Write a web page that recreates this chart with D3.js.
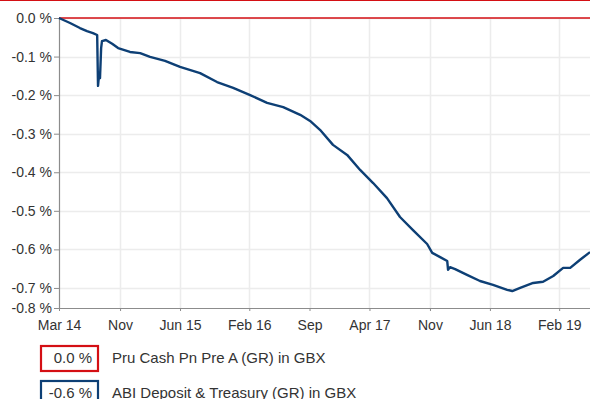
<!DOCTYPE html>
<html>
<head>
<meta charset="utf-8">
<script src="https://cdn.jsdelivr.net/npm/d3@7"></script>
<style>
  html, body { margin: 0; padding: 0; background: #fff; }
  svg { display: block; font-family: "Liberation Sans", Arial, sans-serif; }
</style>
</head>
<body>
<svg id="chart" width="590" height="399"></svg>
<script>
// Series names
const seriesNames = ["Pru Cash Pn Pre A (GR) in GBX", "ABI Deposit & Treasury (GR) in GBX"];
const seriesColors = ["#d40f14", "#0d3f75"];

// Pru Cash: flat at zero across the period
const pruDates = ["2014-03-30", "2019-05-21"];
const pruValues = [0, 0];

// ABI Deposit & Treasury cumulative performance (%)
const abiDates = [
  "2014-03-30", "2014-05-08", "2014-06-12", "2014-07-07", "2014-07-28", "2014-08-12",
  "2014-08-15", "2014-08-19", "2014-08-22", "2014-08-26", "2014-08-29", "2014-09-12",
  "2014-10-04", "2014-10-25", "2014-12-06", "2015-01-11", "2015-02-15", "2015-04-09",
  "2015-06-01", "2015-08-11", "2015-10-10", "2015-12-06", "2016-02-04", "2016-04-04",
  "2016-05-31", "2016-07-30", "2016-09-03", "2016-10-08", "2016-11-23", "2017-01-12",
  "2017-02-27", "2017-04-14", "2017-06-02", "2017-07-18", "2017-09-02", "2017-10-22",
  "2017-11-09", "2017-12-07", "2018-01-01", "2018-01-04", "2018-01-11", "2018-01-29",
  "2018-03-12", "2018-04-27", "2018-06-12", "2018-08-01", "2018-08-19", "2018-09-16",
  "2018-11-01", "2018-12-06", "2019-01-11", "2019-02-15", "2019-03-12", "2019-04-16",
  "2019-05-21"
];
const abiValues = [
  0.000, -0.013, -0.026, -0.034, -0.039, -0.044,
  -0.176, -0.145, -0.156, -0.078, -0.060, -0.057,
  -0.067, -0.078, -0.088, -0.091, -0.101, -0.111,
  -0.127, -0.143, -0.166, -0.181, -0.200, -0.220,
  -0.231, -0.251, -0.267, -0.290, -0.329, -0.355,
  -0.394, -0.428, -0.467, -0.516, -0.550, -0.586,
  -0.609, -0.620, -0.630, -0.653, -0.646, -0.651,
  -0.666, -0.682, -0.692, -0.705, -0.708, -0.700,
  -0.687, -0.684, -0.669, -0.648, -0.648, -0.627,
  -0.607
];

// Axis ticks
const xTickDates = ["2014-03-30", "2014-11-01", "2015-06-01", "2016-02-01", "2016-09-01",
                    "2017-04-01", "2017-11-01", "2018-06-01", "2019-02-01"];
const xTickLabels = ["Mar 14", "Nov", "Jun 15", "Feb 16", "Sep", "Apr 17", "Nov", "Jun 18", "Feb 19"];
const yTickValues = [0, -0.1, -0.2, -0.3, -0.4, -0.5, -0.6, -0.7, -0.752];
const yTickLabels = ["0.0 %", "-0.1 %", "-0.2 %", "-0.3 %", "-0.4 %", "-0.5 %", "-0.6 %", "-0.7 %", "-0.8 %"];

const parse = d3.utcParse("%Y-%m-%d");
const svg = d3.select("#chart");
const FONT = "Liberation Sans, Arial, sans-serif";

const plot = { left: 59, right: 590, top: 18, bottom: 308 };

const x = d3.scaleUtc()
  .domain([parse("2014-03-30"), parse("2019-05-21")])
  .range([plot.left, plot.right]);
const y = d3.scaleLinear()
  .domain([-0.752, 0])
  .range([plot.bottom, plot.top]);

// thin red rule along the top edge
svg.append("line")
  .attr("x1", 0).attr("x2", 590).attr("y1", 0.5).attr("y2", 0.5)
  .attr("stroke", "#d40f14").attr("stroke-width", 1.2);

// gridlines
const grid = svg.append("g").attr("class", "grid");
grid.selectAll("line.v")
  .data(xTickDates.slice(1))
  .join("line")
  .attr("x1", d => Math.round(x(parse(d))) + 0.5)
  .attr("x2", d => Math.round(x(parse(d))) + 0.5)
  .attr("y1", plot.top).attr("y2", plot.bottom)
  .attr("stroke", "#ececec").attr("stroke-width", 1.5);
grid.selectAll("line.h")
  .data(yTickValues.slice(0, -1))
  .join("line")
  .attr("x1", plot.left).attr("x2", plot.right)
  .attr("y1", d => Math.round(y(d)) + 0.5)
  .attr("y2", d => Math.round(y(d)) + 0.5)
  .attr("stroke", "#ececec").attr("stroke-width", 1.5);

// y axis
const yAxis = d3.axisLeft(y)
  .tickValues(yTickValues)
  .tickFormat((d, i) => yTickLabels[i])
  .tickSize(5)
  .tickPadding(2);
const gy = svg.append("g")
  .attr("transform", `translate(${plot.left},0)`)
  .call(yAxis);
gy.select(".domain").attr("stroke", "#8c8c8c").attr("stroke-width", 1.2);
gy.selectAll(".tick line").attr("stroke", "#8c8c8c");
gy.selectAll(".tick text")
  .attr("fill", "#333").attr("font-size", 14)
  .attr("font-family", FONT);

// x axis
const xAxis = d3.axisBottom(x)
  .tickValues(xTickDates.map(parse))
  .tickFormat((d, i) => xTickLabels[i])
  .tickSizeInner(3)
  .tickSizeOuter(0)
  .tickPadding(9);
const gx = svg.append("g")
  .attr("transform", `translate(0,${plot.bottom})`)
  .call(xAxis);
gx.select(".domain").attr("stroke", "#8c8c8c").attr("stroke-width", 1.2);
gx.selectAll(".tick line").attr("stroke", "#8c8c8c");
gx.selectAll(".tick text")
  .attr("fill", "#333").attr("font-size", 14)
  .attr("font-family", FONT);

// series lines
const line = d3.line()
  .x(d => x(d.date))
  .y(d => y(d.value));

const pru = pruDates.map((d, i) => ({ date: parse(d), value: pruValues[i] }));
const abi = abiDates.map((d, i) => ({ date: parse(d), value: abiValues[i] }));

svg.append("path")
  .datum(pru)
  .attr("d", line)
  .attr("fill", "none")
  .attr("stroke", seriesColors[0])
  .attr("stroke-width", 1.6);

svg.append("path")
  .datum(abi)
  .attr("d", line)
  .attr("fill", "none")
  .attr("stroke", seriesColors[1])
  .attr("stroke-width", 2.4)
  .attr("stroke-linejoin", "round");

// legend with last values (plain hyphen for the minus sign)
const lastValues = [pruValues[pruValues.length - 1], abiValues[abiValues.length - 1]];
const fmt = d3.formatLocale({ decimal: ".", thousands: ",", grouping: [3], currency: ["", ""], minus: "-" }).format(".1f");
const legend = svg.append("g");
seriesNames.forEach((name, i) => {
  const top = 346 + i * 35;
  const g = legend.append("g");
  g.append("rect")
    .attr("x", 41).attr("y", top)
    .attr("width", 57).attr("height", 25)
    .attr("fill", "#fff")
    .attr("stroke", seriesColors[i])
    .attr("stroke-width", 2.2);
  g.append("text")
    .attr("x", 92).attr("y", top + 16.5)
    .attr("text-anchor", "end")
    .attr("font-size", 15).attr("fill", "#333")
    .attr("font-family", FONT)
    .text(fmt(lastValues[i]).replace("-0.0", "0.0") + " %");
  g.append("text")
    .attr("x", 112).attr("y", top + 16.5)
    .attr("font-size", 15).attr("fill", "#333")
    .attr("font-family", FONT)
    .text(name);
});
</script>
</body>
</html>
